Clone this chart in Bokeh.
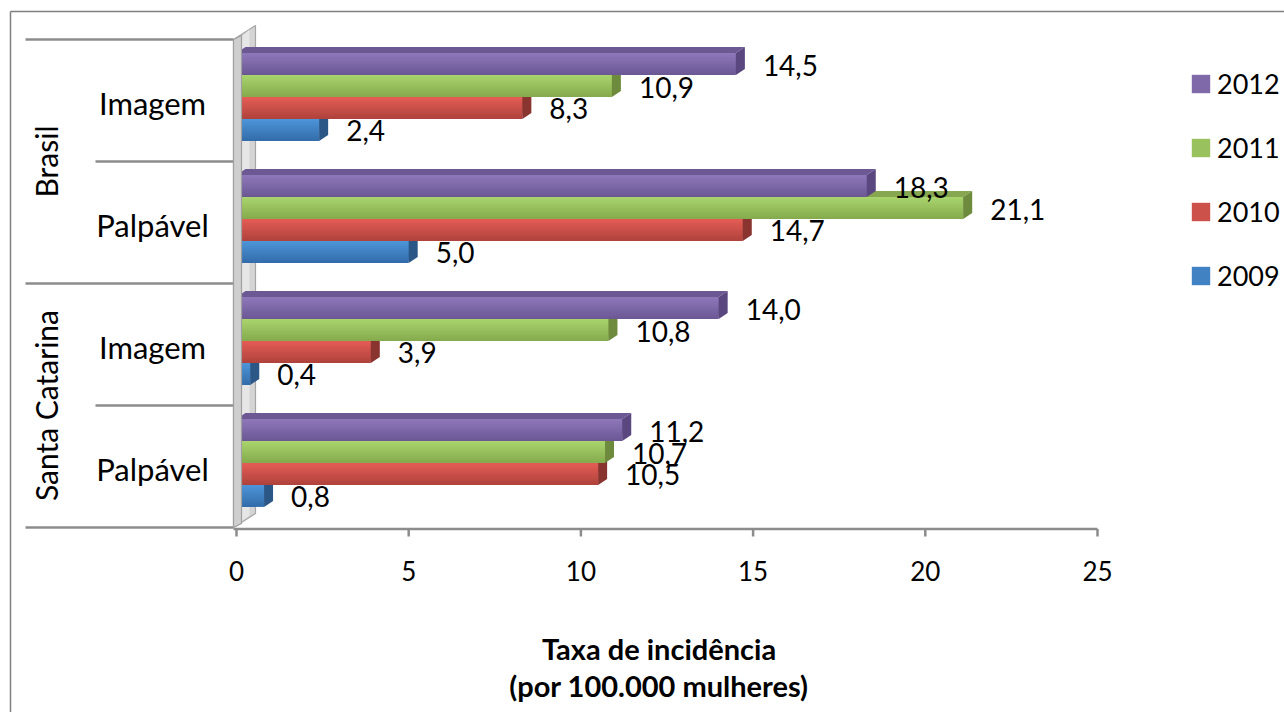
import math
from bokeh.plotting import figure
from bokeh.models import Range1d, Legend, LegendItem
from bokeh.core.properties import value
from bokeh.embed import file_html
from bokeh.resources import INLINE

# ---------------- data ----------------
groups = ["Brasil", "Santa Catarina"]
subcats = ["Imagem", "Palpável", "Imagem", "Palpável"]   # top to bottom
years = ["2012", "2011", "2010", "2009"]
v2012 = [14.5, 18.3, 14.0, 11.2]
v2011 = [10.9, 21.1, 10.8, 10.7]
v2010 = [8.3, 14.7, 3.9, 10.5]
v2009 = [2.4, 5.0, 0.4, 0.8]
x_ticks = [0, 5, 10, 15, 20, 25]
x_title = ["Taxa de incidência", "(por 100.000 mulheres)"]

series = [v2012, v2011, v2010, v2009]

# ---------------- styles ----------------
FONT = "Lato"
colors = {
    "2012": dict(light="#8E77B8", dark="#6C5895", top="#6C5892", right="#5A4780"),
    "2011": dict(light="#A8D36C", dark="#86AB4E", top="#86A650", right="#6E8B3D"),
    "2010": dict(light="#E25C55", dark="#B1433D", top="#A8433C", right="#8A3430"),
    "2009": dict(light="#4C94D7", dark="#346DAB", top="#3869A1", right="#2B5786"),
}
GRAY = "#8C8C8C"
N_BANDS = 12

def mix(c1, c2, t):
    a = [int(c1[i:i + 2], 16) for i in (1, 3, 5)]
    b = [int(c2[i:i + 2], 16) for i in (1, 3, 5)]
    return "#%02x%02x%02x" % tuple(round(x + (y - x) * t) for x, y in zip(a, b))

W, H_FIG = 1284, 712
PX_X = 34.44      # pixels per x unit
PX_Y = 122.0      # pixels per category
X0_PX = 236       # zero position within canvas
Y0_PX = 527       # bottom of plot area within canvas

x_start = -X0_PX / PX_X
x_end = (W - X0_PX) / PX_X
y_end = Y0_PX / PX_Y
y_start = -(H_FIG - Y0_PX) / PX_Y

p = figure(width=W, height=H_FIG, output_backend="svg", toolbar_location=None,
           x_range=Range1d(x_start, x_end), y_range=Range1d(y_start, y_end),
           x_axis_location=None, y_axis_location=None,
           min_border=0, min_border_left=0, min_border_right=0,
           min_border_top=0, min_border_bottom=0)
p.outline_line_color = None
p.xgrid.visible = False
p.ygrid.visible = False
p.background_fill_color = "white"
p.border_fill_color = "white"

def dx(px):
    return px / PX_X

def dy(px):
    return px / PX_Y

# outer chart border (left and top)
bx = x_start + dx(10)
byt = y_end - dy(11)
p.segment(x0=[bx, bx], y0=[byt, byt], x1=[bx, x_end + 1], y1=[y_start - 1, byt],
          line_color="#7F7F7F", line_width=1.5)

# category separators (left)
n_cat = len(subcats)
bounds = list(range(n_cat + 1))
long_b = [b for b in bounds if b % 2 == 0]
short_b = [b for b in bounds if b % 2 == 1]
p.segment(x0=[dx(25 - 236)] * len(long_b), x1=[dx(-3)] * len(long_b), y0=long_b, y1=long_b,
          line_color=GRAY, line_width=2.5)
p.segment(x0=[dx(95 - 236)] * len(short_b), x1=[dx(-3)] * len(short_b), y0=short_b, y1=short_b,
          line_color=GRAY, line_width=2.5)

# value axis line + ticks
p.segment(x0=[dx(-3)], x1=[x_ticks[-1]], y0=[-dy(1.5)], y1=[-dy(1.5)], line_color=GRAY, line_width=2.5)
p.segment(x0=x_ticks, x1=x_ticks, y0=[-dy(1.5)] * len(x_ticks), y1=[-dy(9)] * len(x_ticks),
          line_color=GRAY, line_width=2.5)
p.text(x=x_ticks, y=[0] * len(x_ticks), text=[str(t) for t in x_ticks], y_offset=43,
       text_font=value(FONT), text_font_size="26px", text_align="center", text_baseline="middle",
       text_color="#000000")

# axis title
p.text(x=[(x_ticks[0] + x_ticks[-1]) / 2] * 2, y=[0, 0], text=x_title, x_offset=-8, y_offset=[121, 158],
       text_font=value(FONT), text_font_size="29px", text_font_style="bold",
       text_align="center", text_baseline="middle", text_color="#000000")

# 3D wall (back part)
WALL_L, WALL_F, WALL_B = dx(-3), dx(5), dx(19)
p.patch(x=[WALL_L, WALL_L, WALL_B, WALL_B], y=[0, n_cat, n_cat + dy(14), dy(14)],
        fill_color="#D4D4D4", line_color="#A6A6A6", line_width=1.2)
p.patch(x=[WALL_L + dx(4), WALL_L + dx(4), WALL_B - dx(6), WALL_B - dx(6)],
        y=[dy(3), n_cat - dy(1), n_cat + dy(10), dy(12)],
        fill_color="#E6E6E6", line_color=None)

# bars
cat_y = [n_cat - 0.5 - i for i in range(n_cat)]
BH = 0.18
SHIFT = dy(3.5)
DX = dx(9)
DY = dy(6)
renderers = {}
for j in reversed(range(len(years))):
    yr = years[j]
    c = colors[yr]
    vals = series[j]
    yc = [cy + SHIFT + (1.5 - j) * BH for cy in cat_y]
    tops = [y + BH / 2 for y in yc]
    bots = [y - BH / 2 for y in yc]
    for k in range(N_BANDS):
        bc = mix(c["dark"], c["light"], k / (N_BANDS - 1))
        r = p.quad(left=[0] * n_cat, right=vals,
                   top=tops, bottom=[t - (N_BANDS - k) * BH / N_BANDS for t in tops],
                   fill_color=bc, line_color=None)
        if k == N_BANDS // 2:
            renderers[yr] = r
    p.patches(xs=[[0, v, v + DX, DX] for v in vals],
              ys=[[t, t, t + DY, t + DY] for t in tops],
              fill_color=c["top"], line_color=None)
    p.patches(xs=[[v, v + DX, v + DX, v] for v in vals],
              ys=[[b, b + DY, t + DY, t] for b, t in zip(bots, tops)],
              fill_color=c["right"], line_color=None)

# 3D wall (front strip)
p.patch(x=[WALL_L, WALL_L, WALL_F, WALL_F], y=[0, n_cat, n_cat + dy(4), dy(4)],
        fill_color="#CFCFCF", line_color="#A0A0A0", line_width=1.2)

# data labels
for j in range(len(years)):
    vals = series[j]
    yc = [cy + SHIFT + (1.5 - j) * BH for cy in cat_y]
    p.text(x=vals, y=yc, text=[f"{v:.1f}".replace(".", ",") for v in vals],
           x_offset=27, y_offset=1, text_font=value(FONT), text_font_size="28px",
           text_align="left", text_baseline="middle", text_color="#000000")

# category labels
p.text(x=[0] * n_cat, y=cat_y, text=subcats, x_offset=-84, y_offset=2,
       text_font=value(FONT), text_font_size="31px", text_align="center", text_baseline="middle",
       text_color="#000000")
group_y = [n_cat - 1, 1]
p.text(x=[0, 0], y=group_y, text=groups, x_offset=-191, angle=math.pi / 2,
       text_font=value(FONT), text_font_size="30px", text_align="center", text_baseline="middle",
       text_color="#000000")

legend = Legend(items=[LegendItem(label=yr, renderers=[renderers[yr]]) for yr in years],
                location=(1189, 420), orientation="vertical",
                glyph_width=23, glyph_height=23, label_standoff=5, spacing=31,
                padding=0, margin=0, border_line_color=None, background_fill_alpha=0,
                label_text_font=FONT, label_text_font_size="27px", label_text_color="#000000")
p.add_layout(legend)

open("out.html", "w").write(file_html(p, INLINE))
